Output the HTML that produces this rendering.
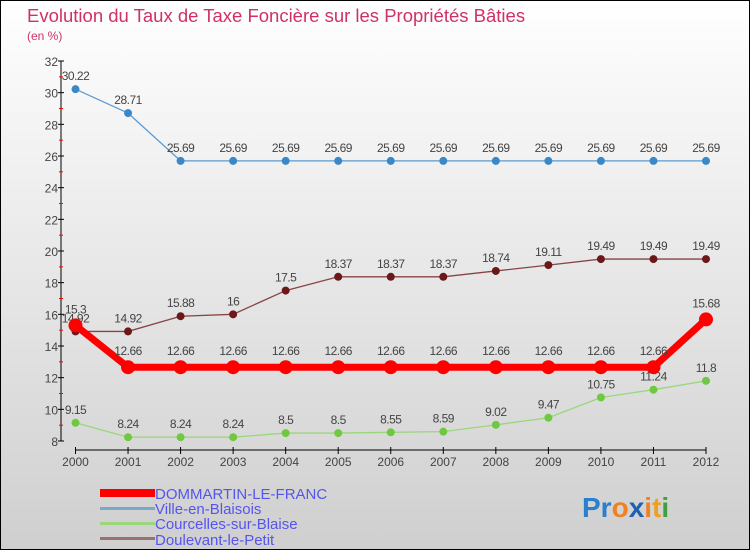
<!DOCTYPE html>
<html><head><meta charset="utf-8"><style>
body{margin:0}
#c{width:750px;height:550px;position:relative;font-family:"Liberation Sans",sans-serif;}
</style></head><body>
<div id="c">
<svg id="s" width="750" height="550" xmlns="http://www.w3.org/2000/svg">
<defs><linearGradient id="bg" x1="0" y1="0" x2="0" y2="1"><stop offset="0" stop-color="#ffffff"/><stop offset="1" stop-color="#cfcfcf"/></linearGradient></defs>
<rect x="0.5" y="0.5" width="749" height="549" fill="url(#bg)" stroke="#000"/>
<text x="27" y="22" font-size="18.5" fill="#d0306a">Evolution du Taux de Taxe Foncière sur les Propriétés Bâties</text>
<text x="27" y="40" font-size="12" fill="#d0306a">(en %)</text>
<g id="axes"></g><g id="series"></g>
<g>
<rect x="100" y="489" width="55" height="8" fill="#f00"/>
<text x="155" y="499" font-size="15" fill="#5555ee">DOMMARTIN-LE-FRANC</text>
<rect x="100" y="507" width="55" height="3" fill="#7aa7cc"/>
<text x="155" y="514" font-size="15" fill="#5555ee">Ville-en-Blaisois</text>
<rect x="100" y="522" width="55" height="3" fill="#9ad77a"/>
<text x="155" y="529" font-size="15" fill="#5555ee">Courcelles-sur-Blaise</text>
<rect x="100" y="537" width="55" height="3" fill="#9a7070"/>
<text x="155" y="545" font-size="15" fill="#5555ee">Doulevant-le-Petit</text>
</g>
<text x="582" y="517" font-size="28" font-weight="bold"><tspan fill="#2a7fcf">Pr</tspan><tspan fill="#f08020">o</tspan><tspan fill="#2060b0">x</tspan><tspan fill="#f08020">i</tspan><tspan fill="#f0a020">t</tspan><tspan fill="#40a040">i</tspan></text>
</svg></div>
<script>
const years=[2000,2001,2002,2003,2004,2005,2006,2007,2008,2009,2010,2011,2012];
const yTicks=[8,10,12,14,16,18,20,22,24,26,28,30,32];
const dommartin=[15.3,12.66,12.66,12.66,12.66,12.66,12.66,12.66,12.66,12.66,12.66,12.66,15.68];
const ville=[30.22,28.71,25.69,25.69,25.69,25.69,25.69,25.69,25.69,25.69,25.69,25.69,25.69];
const courcelles=[9.15,8.24,8.24,8.24,8.5,8.5,8.55,8.59,9.02,9.47,10.75,11.24,11.8];
const doulevant=[14.92,14.92,15.88,16,17.5,18.37,18.37,18.37,18.74,19.11,19.49,19.49,19.49];
const NS="http://www.w3.org/2000/svg";
const X=i=>75.5+i*(706-75.5)/(years.length-1);
const Y=v=>441-(v-8)*(441-61)/24;
function mk(t,a,p){const e=document.createElementNS(NS,t);for(const k in a)e.setAttribute(k,a[k]);p.appendChild(e);return e;}
const ax=document.getElementById('axes');
let l=mk('line',{x1:61,y1:61,x2:61,y2:441,stroke:'#000'},ax);


l=mk('line',{x1:75,y1:450,x2:706,y2:450,stroke:'#000'},ax);


yTicks.forEach((v,i)=>{
 mk('line',{x1:58,y1:Y(v),x2:64,y2:Y(v),stroke:'#000'},ax);
 if(i<yTicks.length-1)mk('line',{x1:59,y1:Y(v+1),x2:63,y2:Y(v+1),stroke:'#f00'},ax);
 const t=mk('text',{x:58,y:Y(v)+5,'font-size':12,'text-anchor':'end',fill:'#444'},ax);
 t.textContent=v;
 
 
});
years.forEach((y,i)=>{
 mk('line',{x1:X(i),y1:447,x2:X(i),y2:454,stroke:'#000'},ax);
 const t=mk('text',{x:X(i),y:466,'font-size':12,'text-anchor':'middle',fill:'#444'},ax);
 t.textContent=y;
 
 
});
const sg=document.getElementById('series');
function draw(data,name,color,dot,w,r,dy){
 const g=mk('g',{},sg);
 
 
 const pl=mk('polyline',{points:data.map((v,i)=>X(i)+','+Y(v)).join(' '),fill:'none',stroke:color,'stroke-width':w},g);
 
 
 data.forEach((v,i)=>{
  const c=mk('circle',{cx:X(i),cy:Y(v),r:r,fill:dot},g);
  
  
  const t=mk('text',{x:X(i),y:Y(v)-dy,'font-size':12,'text-anchor':'middle',fill:'#444','letter-spacing':'-0.5'},g);
  t.textContent=v;
  
  
 });
}
draw(ville,'ville','#5b9bd0','#3a88c8',1.3,4,9);
draw(courcelles,'courcelles','#9ad77a','#70c840',1.3,4,9);
draw(doulevant,'doulevant','#884444','#6a1818',1.3,4,9);
draw(dommartin,'dommartin','#ff0000','#ff0000',7,7,12);
</script>
</body></html>
